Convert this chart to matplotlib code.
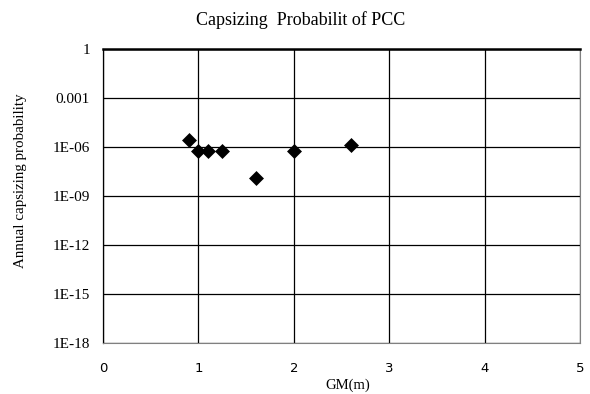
import matplotlib
matplotlib.use("Agg")
import matplotlib.pyplot as plt

# data
gm = [0.9, 1.0, 1.1, 1.25, 1.6, 2.0, 2.6]
prob = [2.6e-6, 5.7e-7, 5.7e-7, 5.7e-7, 1.2e-8, 5.7e-7, 1.3e-6]

yticks = [1, 1e-3, 1e-6, 1e-9, 1e-12, 1e-15, 1e-18]
ylabels = ["1", "0.001", "1E-06", "1E-09", "1E-12", "1E-15", "1E-18"]
xticks = [0, 1, 2, 3, 4, 5]

serif = "Liberation Serif"

fig = plt.figure(figsize=(5.9, 3.94), dpi=100)
ax = fig.add_axes([0.1746, 0.1294, 0.8085, 0.7462])

ax.scatter(gm, prob, marker="D", s=58, color="black", linewidths=0, zorder=3)

ax.set_yscale("log")
ax.set_ylim(1e-18, 1)
ax.set_xlim(0, 5)
ax.set_yticks(yticks)
ax.set_yticklabels(ylabels, fontfamily=serif, fontsize=11)
ax.minorticks_off()
ax.set_xticks(xticks)
ax.set_xticklabels([str(t) for t in xticks], fontsize=9.5, fontfamily="DejaVu Sans")

ax.grid(True, color="black", linewidth=0.9)
ax.set_axisbelow(True)
ax.tick_params(axis="y", length=0, pad=9.5)
ax.tick_params(axis="x", length=0, pad=13.5)

for side in ["right", "bottom"]:
    ax.spines[side].set_color("#808080")
    ax.spines[side].set_linewidth(0.8)
ax.spines["left"].set_linewidth(0.9)
ax.spines["top"].set_linewidth(1.8)

# titles placed by figure coords to match the original layout
fig.text(0.51, 0.949, "Capsizing  Probabilit of PCC", fontfamily=serif, fontsize=13,
         ha="center", va="center")
fig.text(0.589, 0.023, "GM(m)", fontfamily=serif, fontsize=10.5, ha="center", va="center")
fig.text(0.034, 0.541, "Annual capsizing probability", fontfamily=serif, fontsize=10.8,
         rotation=90, ha="center", va="center")

fig.savefig("out.png", dpi=100)
